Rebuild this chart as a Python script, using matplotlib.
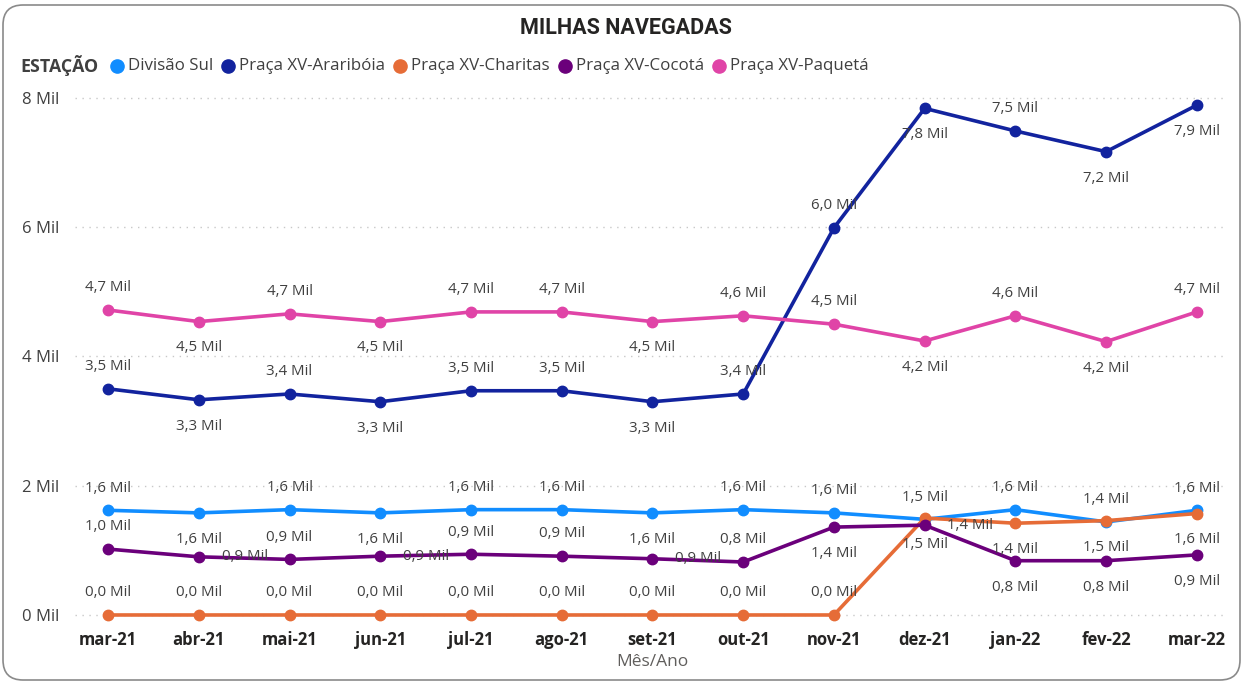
import matplotlib
matplotlib.use("Agg")
import matplotlib.pyplot as plt
from matplotlib.patches import FancyBboxPatch
from matplotlib.lines import Line2D

months = ["mar-21", "abr-21", "mai-21", "jun-21", "jul-21", "ago-21", "set-21",
          "out-21", "nov-21", "dez-21", "jan-22", "fev-22", "mar-22"]
series_names = ["Divisão Sul", "Praça XV-Araribóia", "Praça XV-Charitas",
                "Praça XV-Cocotá", "Praça XV-Paquetá"]
divisao_sul = [1.62, 1.58, 1.63, 1.58, 1.63, 1.63, 1.58, 1.63, 1.58, 1.48, 1.63, 1.44, 1.62]
arariboia = [3.50, 3.33, 3.42, 3.30, 3.47, 3.47, 3.30, 3.42, 5.99, 7.84, 7.49, 7.17, 7.89]
charitas = [0.0, 0.0, 0.0, 0.0, 0.0, 0.0, 0.0, 0.0, 0.0, 1.50, 1.42, 1.46, 1.57]
cocota = [1.02, 0.90, 0.86, 0.91, 0.94, 0.91, 0.87, 0.82, 1.36, 1.39, 0.84, 0.84, 0.93]
paqueta = [4.72, 4.54, 4.66, 4.54, 4.69, 4.69, 4.54, 4.63, 4.50, 4.24, 4.63, 4.23, 4.69]
y_ticks = [0, 2, 4, 6, 8]

colors = ["#118DFF", "#12239E", "#E66C37", "#6B007B", "#E044A7"]
# label placement style per point: a = above, b = below, r = right
placements = [
    ['a', 'b', 'a', 'b', 'a', 'a', 'b', 'a', 'a', 'a', 'a', 'a', 'a'],
    ['a', 'b', 'a', 'b', 'a', 'a', 'b', 'a', 'a', 'b', 'a', 'b', 'b'],
    ['a', 'a', 'a', 'a', 'a', 'a', 'a', 'a', 'a', 'b', 'b', 'b', 'b'],
    ['a', 'r', 'a', 'r', 'a', 'a', 'r', 'a', 'b', 'r', 'b', 'b', 'b'],
    ['a', 'b', 'a', 'b', 'a', 'a', 'b', 'a', 'a', 'b', 'a', 'b', 'a'],
]
offsets = {'a': (0, 16), 'b': (0, -19), 'r': (33, 0)}

FONT = "Open Sans"
plt.rcParams['font.family'] = [FONT, 'DejaVu Sans']

fig = plt.figure(figsize=(12.42, 6.82), dpi=100)
fig.patch.set_facecolor("white")
ax = fig.add_axes([75 / 1242, 1 - 625 / 682, 1150 / 1242, 535 / 682])

xs = list(range(len(months)))
all_series = [divisao_sul, arariboia, charitas, cocota, paqueta]
for i, (vals, col) in enumerate(zip(all_series, colors)):
    ax.plot(xs, vals, color=col, lw=2.6, marker='o', ms=7.5, zorder=3 + i,
            clip_on=False, solid_capstyle='round')
for i, vals in enumerate(all_series):
    for x, v, p in zip(xs, vals, placements[i]):
        ax.annotate(f"{v:.1f} Mil".replace(".", ","), (x, v),
                    xytext=offsets[p], textcoords="offset points",
                    ha='center', va='center', fontsize=10.8, color="#404040",
                    zorder=20)

ax.set_xlim(-0.364, 12.31)
ax.set_ylim(-0.155, 8.124)
ax.set_yticks(y_ticks)
ax.set_yticklabels([f"{t} Mil" for t in y_ticks], fontsize=12, color="#404040")
ax.set_xticks(xs)
ax.set_xticklabels(months, fontsize=12, fontweight='bold', color="#252423")
ax.tick_params(length=0)
ax.tick_params(axis='y', pad=11)
ax.tick_params(axis='x', pad=4)
for s in ax.spines.values():
    s.set_visible(False)
ax.grid(axis='y', color="#C8C8C8", linestyle=(0, (1, 4)), lw=1)
ax.set_axisbelow(True)

fig.text(652 / 1242, 1 - 662 / 682, "Mês/Ano", ha='center', va='center',
         fontsize=12.5, color="#605E5C")
fig.text(626 / 1242, 1 - 28 / 682, "MILHAS NAVEGADAS", ha='center', va='center',
         fontsize=15.5, fontweight='bold', family="Roboto", color="#252423")

# legend
renderer = fig.canvas.get_renderer()
ly = 1 - 66 / 682
t = fig.text(20 / 1242, ly, "ESTAÇÃO", ha='left', va='center', fontsize=12.8,
             fontweight='bold', color="#404040")
bb = t.get_window_extent(renderer)
xpix = bb.x1 + 19
for name, col in zip(series_names, colors):
    fig.add_artist(Line2D([xpix / 1242], [ly], marker='o', ms=9.5,
                          color=col, lw=0, transform=fig.transFigure))
    tt = fig.text((xpix + 11) / 1242, ly, name, ha='left', va='center',
                  fontsize=12.2, color="#404040")
    b2 = tt.get_window_extent(renderer)
    xpix = b2.x1 + 15

border = FancyBboxPatch((0.03, 0.02), 12.37, 6.75,
                        boxstyle="round,pad=0,rounding_size=0.2",
                        transform=fig.dpi_scale_trans, fill=False,
                        edgecolor="#8a8a8a", lw=1.2)
fig.add_artist(border)

fig.savefig("out.png", dpi=100)
